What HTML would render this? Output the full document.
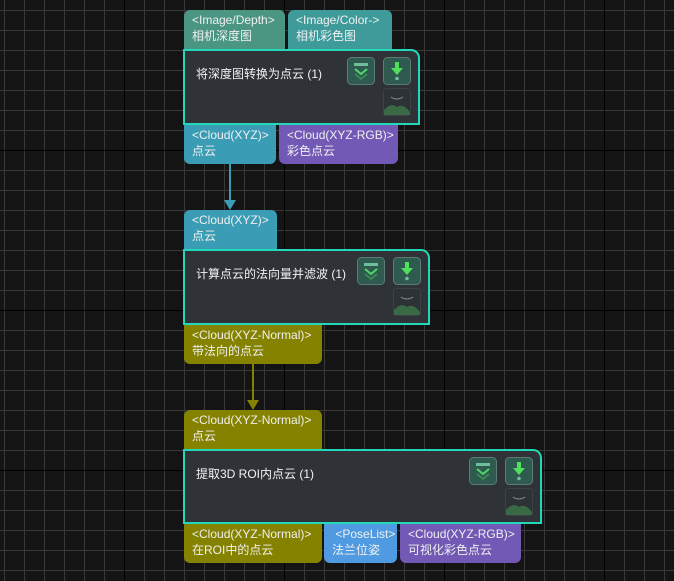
<!DOCTYPE html>
<html><head><meta charset="utf-8"><style>
body{margin:0;width:674px;height:581px;overflow:hidden;background:#141414;font-family:"Liberation Sans","Noto Sans CJK SC",sans-serif;}
#bg{position:absolute;left:0;top:0;width:674px;height:581px;
background-image:
linear-gradient(to right,#000 0,#000 1px,transparent 1px),
linear-gradient(to bottom,#000 0,#000 1px,transparent 1px),
linear-gradient(to right,#393939 0,#393939 1px,transparent 1px),
linear-gradient(to bottom,#393939 0,#393939 1px,transparent 1px);
background-size:160px 160px,160px 160px,20px 20px,20px 20px;
background-position:124px 0,0 150px,4px 0,0 10px;}
.p{position:absolute;height:39px;color:#f0f0f0;font-size:12px;line-height:16px;padding:2px 0 0 8px;box-sizing:border-box;white-space:nowrap}
.in{border-radius:6px 6px 0 0}
.out{border-radius:0 0 6px 6px}
.n{position:absolute;background:#2f3337;border:2px solid #22d8b8;border-radius:0 9px 0 0;box-sizing:border-box}
.t{position:absolute;left:11px;top:14px;color:#f2f2f2;font-size:12px}
</style></head><body>
<div id="bg"></div>
<svg width="674" height="581" style="position:absolute;left:0;top:0">
<line x1="230" y1="164" x2="230" y2="202" stroke="#3a9db5" stroke-width="2"/>
<polygon points="224,200 236,200 230,210" fill="#3a9db5"/>
<line x1="253" y1="364" x2="253" y2="402" stroke="#858200" stroke-width="2"/>
<polygon points="247,400 259,400 253,410" fill="#858200"/>
</svg>

<div class="p in" style="left:184px;top:10px;width:101px;background:#4a9683">&lt;Image/Depth&gt;<br>相机深度图</div>
<div class="p in" style="left:288px;top:10px;width:104px;background:#3f9a9a">&lt;Image/Color-&gt;<br>相机彩色图</div>
<div class="p out" style="left:184px;top:125px;width:92px;background:#3a9db5">&lt;Cloud(XYZ)&gt;<br>点云</div>
<div class="p out" style="left:279px;top:125px;width:119px;background:#7159b5">&lt;Cloud(XYZ-RGB)&gt;<br>彩色点云</div>

<div class="p in" style="left:184px;top:210px;width:93px;background:#3a9db5">&lt;Cloud(XYZ)&gt;<br>点云</div>
<div class="p out" style="left:184px;top:325px;width:138px;background:#858200">&lt;Cloud(XYZ-Normal)&gt;<br>带法向的点云</div>

<div class="p in" style="left:184px;top:410px;width:138px;background:#858200">&lt;Cloud(XYZ-Normal)&gt;<br>点云</div>
<div class="p out" style="left:184px;top:524px;width:138px;background:#858200">&lt;Cloud(XYZ-Normal)&gt;<br>在ROI中的点云</div>
<div class="p out" style="left:324px;top:524px;width:73px;background:#4f9ae0">&nbsp;&lt;PoseList&gt;<br>法兰位姿</div>
<div class="p out" style="left:400px;top:524px;width:121px;background:#7159b5">&lt;Cloud(XYZ-RGB)&gt;<br>可视化彩色点云</div>

<div class="n" style="left:183px;top:49px;width:237px;height:76px"><div class="t">将深度图转换为点云 (1)</div></div>
<div class="n" style="left:183px;top:249px;width:247px;height:76px"><div class="t">计算点云的法向量并滤波 (1)</div></div>
<div class="n" style="left:183px;top:449px;width:359px;height:75px"><div class="t">提取3D ROI内点云 (1)</div></div>

<svg width="674" height="581" style="position:absolute;left:0;top:0">
<defs>
<g id="b1"><rect x="0.5" y="0.5" width="27" height="27" rx="4" fill="#2f5a50" stroke="#5b7d74"/>
<rect x="7" y="6" width="14" height="3" fill="#6fbf9a"/>
<polyline points="8,12 14,17 20,12" fill="none" stroke="#4fd86a" stroke-width="2"/>
<polyline points="8,17 14,22 20,17" fill="none" stroke="#3a8a55" stroke-width="2"/></g>
<g id="b2"><rect x="0.5" y="0.5" width="27" height="27" rx="4" fill="#2f5a50" stroke="#5b7d74"/>
<rect x="12" y="5" width="4" height="7" fill="#4fe05a"/><polygon points="8,11 20,11 14,18" fill="#4fe05a"/>
<circle cx="14" cy="21.5" r="1.8" fill="#6fbfa0"/></g>
<g id="b3"><rect x="0.5" y="0.5" width="27" height="27" rx="3" fill="#2c3236" stroke="#3a4246"/>
<path d="M8 9 Q14 13 20 9" fill="none" stroke="#8a9090" stroke-width="1"/>
<path d="M1 27 L1 22 Q8 14 14 19 Q20 15 27 24 L27 27 Z" fill="#3a6a45"/></g>
</defs>
<use href="#b1" x="347" y="57"/><use href="#b2" x="383" y="57"/><use href="#b3" x="383" y="88"/>
<use href="#b1" x="357" y="257"/><use href="#b2" x="393" y="257"/><use href="#b3" x="393" y="288"/>
<use href="#b1" x="469" y="457"/><use href="#b2" x="505" y="457"/><use href="#b3" x="505" y="488"/>
</svg>
</body></html>
